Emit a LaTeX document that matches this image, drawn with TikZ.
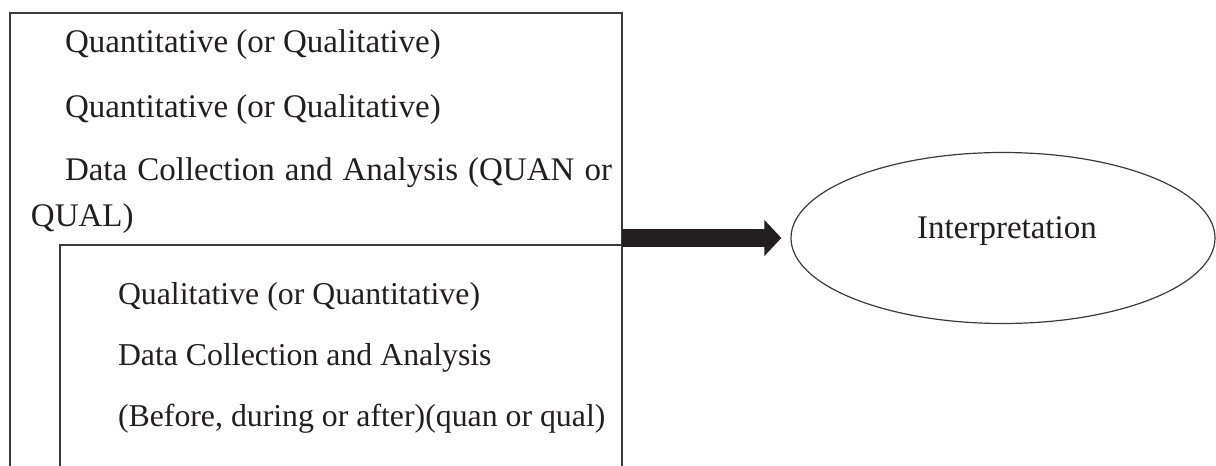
\documentclass[tikz,border=0pt]{standalone}
\usepackage{fontspec}
\setmainfont{Liberation Serif}
\usetikzlibrary{arrows.meta,shapes.geometric}
\definecolor{ink}{HTML}{231F20}
\definecolor{rule}{HTML}{3A3A3A}
\begin{document}
\begin{tikzpicture}[x=0.5pt,y=-0.5pt,
  txt/.style={anchor=base west,inner sep=0pt,outer sep=0pt,text=ink,
    font=\fontsize{16.5pt}{19pt}\selectfont},
  subtxt/.style={txt,font=\fontsize{15.9pt}{19pt}\selectfont},
  outerline/.style={draw=rule,line width=1pt},
  innerline/.style={draw=rule,line width=0.8pt},
  bigarrow/.style={draw=ink,line width=9pt,-{Triangle[length=8.5pt,width=17.5pt]}}]
\useasboundingbox (0,0) rectangle (1216,466);

% outer box, open at the bottom
\coordinate (oBL) at (10,466);
\coordinate (oTL) at (10,13);
\coordinate (oTR) at (622,13);
\coordinate (oBR) at (622,466);
\draw[outerline] (oBL) -- (oTL) -- (oTR) -- (oBR);

% inner box, open at the bottom
\coordinate (iBL) at (60,466);
\coordinate (iTL) at (60,245);
\coordinate (iTR) at (622,245);
\draw[innerline] (iBL) -- (iTL) -- (iTR);

% texts of the outer box
\node[txt] (q1) at (65,53) {Quantitative (or Qualitative)};
\node[txt] (q2) at (65,117) {Quantitative (or Qualitative)};
\node[txt] (d1) at (65,180) {\makebox[273.5pt][s]{Data Collection and Analysis (QUAN or}};
\node[txt] (d2) at (31,226) {QUAL)};

% texts of the inner box
\node[subtxt] (n1) at (118,304) {Qualitative (or Quantitative)};
\node[subtxt] (n2) at (118,365) {Data Collection and Analysis};
\node[subtxt] (n3) at (118,426) {(Before, during or after)(quan or qual)};

% interpretation
\node[ellipse,draw=rule,line width=0.6pt,
  minimum width=212pt,minimum height=85.5pt,inner sep=0pt] (interp) at (1003,238) {};
\node[txt,anchor=base] (itxt) at (1007,238) {Interpretation};

% block arrow from the box to the ellipse
\coordinate (aStart) at (622,238);
\draw[bigarrow] (aStart) -- ([xshift=-4.5pt]interp.west);
\end{tikzpicture}
\end{document}
